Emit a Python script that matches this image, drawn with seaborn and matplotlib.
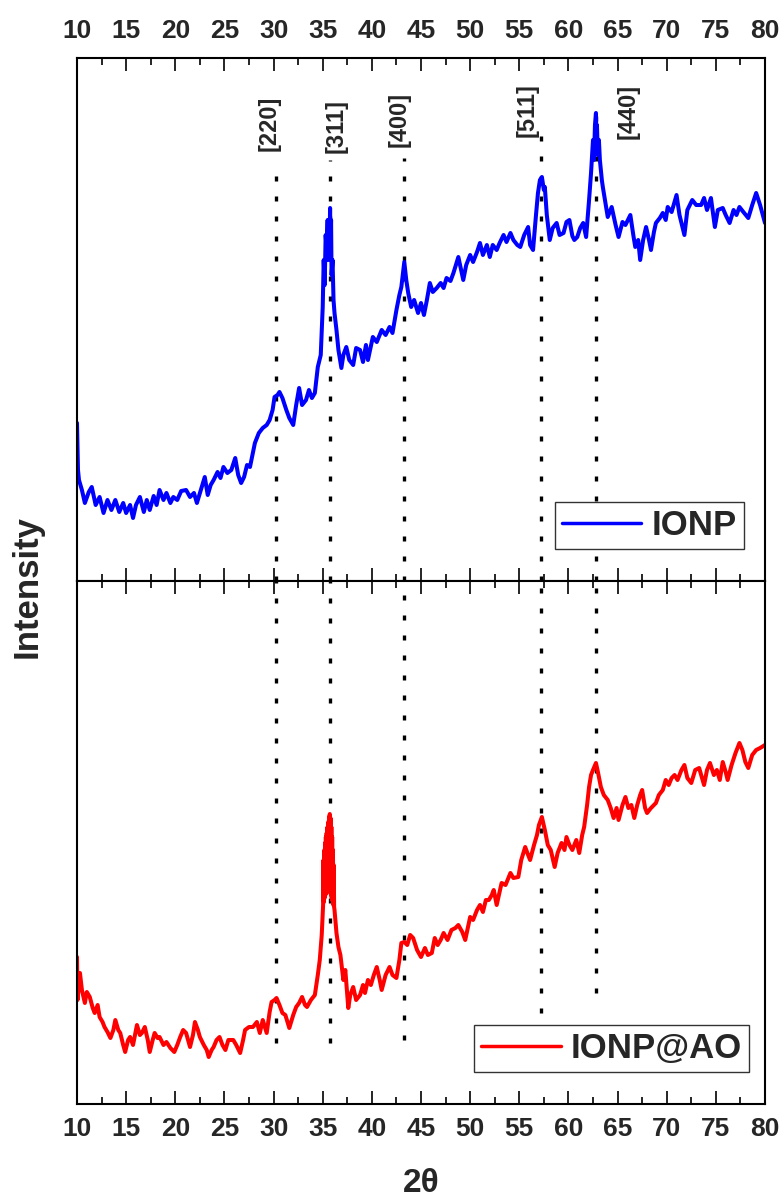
import matplotlib
matplotlib.use("Agg")
import matplotlib.pyplot as plt
from matplotlib.ticker import MultipleLocator
import seaborn as sns

# --- XRD pattern of bare iron oxide nanoparticles (IONP) ---
two_theta_ionp = [
    10.0, 10.1, 10.2, 10.5, 10.8, 11.2, 11.5, 11.9, 12.3, 12.7, 13.1, 13.5, 13.9, 14.3, 14.7,
    15.0, 15.4, 15.7, 16.0, 16.4, 16.8, 17.1, 17.4, 17.8, 18.1, 18.4, 18.8, 19.1, 19.5, 19.8,
    20.2, 20.6, 21.1, 21.5, 21.9, 22.2, 22.6, 23.0, 23.3, 23.6, 23.9, 24.3, 24.6, 24.9, 25.3,
    25.7, 26.1, 26.4, 26.7, 27.0, 27.3, 27.6, 28.1, 28.5, 28.9, 29.3, 29.6, 29.9, 30.1, 30.4,
    30.6, 30.9, 31.3, 31.6, 32.0, 32.3, 32.6, 32.9, 33.3, 33.6, 33.9, 34.2, 34.5, 34.8, 35.0,
    35.1, 35.2, 35.3, 35.4, 35.5, 35.55, 35.6, 35.7, 35.75, 35.8, 35.85, 35.9, 36.0, 36.1, 36.2,
    36.4, 36.6, 36.9, 37.1, 37.4, 37.7, 38.1, 38.4, 38.8, 39.1, 39.4, 39.6, 40.1, 40.5, 41.0,
    41.4, 41.8, 42.1, 42.5, 42.8, 43.0, 43.3, 43.5, 43.7, 44.0, 44.3, 44.7, 45.0, 45.3, 45.6,
    45.9, 46.2, 46.6, 47.0, 47.3, 47.6, 48.0, 48.3, 48.8, 49.3, 49.6, 50.0, 50.3, 50.7, 51.0,
    51.3, 51.7, 52.0, 52.3, 52.7, 53.0, 53.4, 53.7, 54.1, 54.4, 54.8, 55.1, 55.5, 55.9, 56.1,
    56.4, 56.7, 56.9, 57.1, 57.3, 57.5, 57.6, 57.8, 58.1, 58.4, 58.8, 59.1, 59.5, 59.8, 60.1,
    60.4, 60.6, 60.9, 61.2, 61.5, 61.8, 62.1, 62.3, 62.5, 62.6, 62.7, 62.8, 62.85, 62.9, 63.0,
    63.1, 63.2, 63.4, 63.5, 63.8, 64.0, 64.4, 64.8, 65.1, 65.5, 65.8, 66.3, 66.6, 66.8, 67.1,
    67.3, 67.6, 67.9, 68.2, 68.4, 68.7, 68.9, 69.3, 69.6, 69.9, 70.1, 70.5, 71.0, 71.3, 71.8,
    72.1, 72.6, 73.0, 73.5, 73.8, 74.1, 74.5, 74.9, 75.2, 75.7, 76.0, 76.4, 76.8, 77.1, 77.4,
    77.8, 78.3, 78.7, 79.1, 79.5, 80.0,
]
intensity_ionp = [
    157, 110, 100, 90, 77, 88, 93, 75, 83, 67, 80, 70, 80, 68, 77,
    67, 75, 62, 75, 83, 68, 80, 70, 84, 75, 90, 80, 87, 77, 83,
    80, 89, 90, 83, 87, 77, 90, 103, 85, 95, 100, 108, 102, 113, 107,
    110, 122, 105, 97, 103, 115, 113, 137, 147, 152, 155, 160, 170, 183, 185,
    188, 182, 170, 162, 155, 175, 192, 175, 180, 190, 182, 187, 213, 225, 273,
    320, 295, 345, 330, 360, 320, 355, 340, 372, 330, 360, 305, 320, 280, 267,
    250, 230, 212, 225, 233, 220, 215, 232, 230, 218, 235, 220, 243, 238, 250,
    245, 253, 247, 270, 285, 293, 318, 300, 287, 273, 280, 267, 277, 265, 280,
    297, 288, 292, 297, 292, 302, 299, 307, 323, 300, 315, 325, 318, 328, 337,
    325, 335, 323, 335, 330, 337, 345, 338, 347, 340, 335, 333, 345, 353, 335,
    330, 365, 387, 400, 403, 390, 393, 365, 340, 352, 357, 345, 347, 358, 360,
    344, 340, 343, 352, 357, 343, 380, 407, 440, 420, 455, 467, 440, 455, 425,
    440, 420, 400, 393, 375, 363, 373, 355, 343, 358, 355, 365, 345, 333, 340,
    320, 340, 353, 340, 330, 348, 357, 362, 367, 360, 373, 368, 385, 365, 345,
    370, 380, 375, 375, 382, 370, 382, 353, 370, 372, 365, 357, 370, 365, 373,
    368, 362, 375, 387, 375, 357,
]

# --- XRD pattern of the AO-coated nanoparticles (IONP@AO) ---
two_theta_ionp_ao = [
    10.0, 10.05, 10.3, 10.5, 10.8, 11.0, 11.3, 11.6, 11.8, 12.1, 12.3, 12.6, 12.8, 13.1, 13.4,
    13.7, 13.9, 14.2, 14.4, 14.7, 14.9, 15.2, 15.4, 15.7, 16.1, 16.4, 16.6, 16.9, 17.2, 17.4,
    17.7, 17.9, 18.2, 18.4, 18.8, 19.1, 19.5, 19.9, 20.2, 20.5, 20.8, 21.1, 21.3, 21.5, 21.8,
    22.0, 22.3, 22.5, 22.9, 23.2, 23.4, 23.7, 23.9, 24.2, 24.5, 24.8, 25.1, 25.4, 25.9, 26.2,
    26.6, 26.9, 27.1, 27.5, 27.9, 28.3, 28.6, 28.9, 29.3, 29.6, 29.8, 30.1, 30.3, 30.6, 30.9,
    31.2, 31.6, 32.0, 32.3, 32.6, 32.9, 33.2, 33.4, 33.8, 34.2, 34.5, 34.7, 34.9,
    35.0, 35.04, 35.08, 35.12, 35.16, 35.2, 35.24, 35.28, 35.32, 35.36, 35.4, 35.44, 35.48,
    35.52, 35.56, 35.6, 35.64, 35.68, 35.72, 35.76, 35.8, 35.84, 35.88, 35.92, 35.96, 36.0,
    36.04, 36.08, 36.12, 36.16, 36.2,
    36.4, 36.6, 36.8, 37.1, 37.3, 37.6, 37.8, 38.1,
    38.4, 38.8, 39.1, 39.3, 39.6, 39.9, 40.2, 40.5, 40.8, 41.0, 41.4, 41.8, 42.1, 42.5, 42.8,
    43.0, 43.3, 43.6, 43.9, 44.2, 44.6, 45.0, 45.4, 45.7, 46.1, 46.4, 46.7, 47.0, 47.3, 47.7,
    48.1, 48.5, 48.8, 49.2, 49.5, 50.0, 50.3, 50.7, 51.0, 51.3, 51.6, 51.9, 52.2, 52.4, 52.7,
    53.0, 53.2, 53.6, 54.1, 54.4, 54.9, 55.2, 55.6, 55.9, 56.1, 56.5, 56.8, 57.0, 57.3, 57.6,
    57.9, 58.2, 58.6, 58.9, 59.3, 59.6, 59.8, 60.1, 60.4, 60.8, 61.1, 61.4, 61.6, 61.9, 62.1,
    62.3, 62.5, 62.8, 63.0, 63.3, 63.6, 64.0, 64.3, 64.6, 64.9, 65.1, 65.5, 65.8, 66.1, 66.4,
    66.7, 67.0, 67.3, 67.5, 67.8, 68.0, 68.4, 68.9, 69.2, 69.6, 69.9, 70.2, 70.5, 70.8, 71.1,
    71.5, 71.8, 72.1, 72.5, 72.9, 73.3, 73.8, 74.1, 74.4, 74.8, 75.1, 75.4, 75.7, 76.0, 76.2,
    76.6, 77.0, 77.4, 77.7, 78.0, 78.3, 78.7, 79.1, 79.5, 80.0,
]
intensity_ionp_ao = [
    148, 105, 132, 115, 102, 113, 108, 97, 92, 100, 88, 83, 78, 73, 67,
    75, 85, 75, 72, 60, 53, 65, 68, 60, 80, 70, 72, 78, 65, 53,
    65, 72, 67, 68, 60, 63, 57, 53, 60, 68, 75, 72, 65, 58, 70,
    83, 75, 68, 60, 55, 48, 55, 58, 65, 68, 60, 55, 65, 65, 60,
    52, 65, 75, 78, 78, 83, 72, 85, 72, 93, 103, 105, 107, 100, 92,
    90, 77, 90, 98, 102, 108, 100, 98, 105, 110, 130, 145, 170,
    192, 200, 245, 203, 255, 207, 262, 210, 268, 212, 272, 214, 278,
    215, 283, 215, 288, 214, 291, 212, 287, 210, 278, 207, 268, 204,
    255, 200, 240, 198, 195,
    172, 158, 150, 125, 135, 97, 110, 118,
    105, 110, 120, 112, 125, 120, 130, 138, 125, 115, 130, 138, 130, 127, 145,
    162, 163, 160, 170, 167, 155, 148, 157, 150, 152, 167, 160, 165, 172, 165,
    175, 177, 180, 173, 165, 188, 185, 195, 200, 193, 205, 205, 210, 215, 200,
    213, 222, 220, 232, 227, 228, 245, 258, 250, 245, 260, 270, 280, 288, 275,
    260, 255, 238, 252, 262, 255, 268, 260, 255, 265, 252, 270, 278, 300, 318,
    330, 335, 342, 333, 318, 310, 305, 297, 287, 297, 285, 300, 308, 297, 300,
    287, 300, 310, 315, 297, 292, 297, 302, 310, 315, 325, 320, 327, 330, 325,
    335, 340, 327, 322, 335, 337, 320, 335, 342, 330, 335, 325, 343, 333, 325,
    340, 352, 362, 355, 343, 337, 350, 355, 357, 360,
]

# Reflections of the spinel lattice and where their labels sit
peak_positions = [30.2, 35.7, 43.3, 57.2, 62.8]
peak_labels = ["[220]", "[311]", "[400]", "[511]", "[440]"]
label_offsets = [-0.7, 0.65, -0.55, -1.4, 3.25]
label_heights = [0.822, 0.818, 0.830, 0.849, 0.845]
line_top_upper = [0.801, 0.805, 0.809, 0.857, 0.897]
line_bottom_lower = [0.117, 0.117, 0.122, 0.174, 0.212]

x_ticks = list(range(10, 81, 5))

sns.set_style("ticks")
plt.rcParams["font.family"] = ["Liberation Sans", "DejaVu Sans"]
plt.rcParams["font.weight"] = "bold"
plt.rcParams["lines.scale_dashes"] = False

W, H = 783, 1198
fig = plt.figure(figsize=(W / 100, H / 100), dpi=100)
left, right = 77 / W, 765 / W
ax1 = fig.add_axes([left, 1 - 581 / H, right - left, 523 / H])
ax2 = fig.add_axes([left, 1 - 1104 / H, right - left, 523 / H])

sns.lineplot(x=two_theta_ionp, y=intensity_ionp, ax=ax1, color="#0000FF",
             linewidth=2.9, estimator=None, sort=False, label="IONP")
sns.lineplot(x=two_theta_ionp_ao, y=intensity_ionp_ao, ax=ax2, color="#FF0000",
             linewidth=2.9, estimator=None, sort=False, label="IONP@AO")

ax1.set_ylim(-1, 522)
ax2.set_ylim(1, 524)

dot_style = dict(color="black", linewidth=2.4, linestyle=(0, (3.6, 10.8)), zorder=1)
for pos, lab, off, hgt, top, bot in zip(peak_positions, peak_labels, label_offsets,
                                         label_heights, line_top_upper, line_bottom_lower):
    ax1.axvline(pos, ymin=0, ymax=top, **dot_style)
    ax2.axvline(pos, ymin=bot, ymax=1, **dot_style)
    ax1.text(pos + off, hgt, lab, transform=ax1.get_xaxis_transform(), rotation=90,
             ha="center", va="bottom", fontsize=17, fontweight="bold")

for ax in (ax1, ax2):
    ax.set_xlim(10, 80)
    ax.set_xticks(x_ticks)
    ax.xaxis.set_minor_locator(MultipleLocator(2.5))
    ax.set_yticks([])
    ax.set_ylabel("")
    ax.set_xlabel("")
    for sp in ax.spines.values():
        sp.set_visible(True)
        sp.set_linewidth(1.5)
        sp.set_color("black")
    ax.tick_params(axis="x", which="both", direction="in", top=True, bottom=True,
                   width=1.2, color="black")
    ax.tick_params(axis="x", which="major", length=9.4, labelsize=19)
    ax.tick_params(axis="x", which="minor", length=4.7)

ax1.tick_params(axis="x", which="both", labeltop=True, labelbottom=False, pad=11)
ax2.tick_params(axis="x", which="both", labeltop=False, labelbottom=True, pad=9.5)
for ax in (ax1, ax2):
    for t in ax.get_xticklabels():
        t.set_fontweight("bold")

ax2.set_xlabel("2θ", fontsize=24, fontweight="bold", labelpad=19)
fig.text(27 / W, 1 - 586 / H, "Intensity", rotation=90, ha="center", va="center",
         fontsize=25, fontweight="bold")

legend_style = dict(loc="lower right", fontsize=25, frameon=True, fancybox=False,
                    handlelength=2.3, handletextpad=0.3, borderpad=0.2,
                    borderaxespad=0, edgecolor="#333333", framealpha=1)
leg1 = ax1.legend(bbox_to_anchor=(0.9695, 0.0612), **legend_style)
leg2 = ax2.legend(bbox_to_anchor=(0.977, 0.0612), **legend_style)
for leg in (leg1, leg2):
    leg.get_frame().set_linewidth(1.0)
    for t in leg.get_texts():
        t.set_fontweight("bold")
    for h in leg.get_lines():
        h.set_linewidth(2.5)

fig.savefig("out.png", dpi=100)
